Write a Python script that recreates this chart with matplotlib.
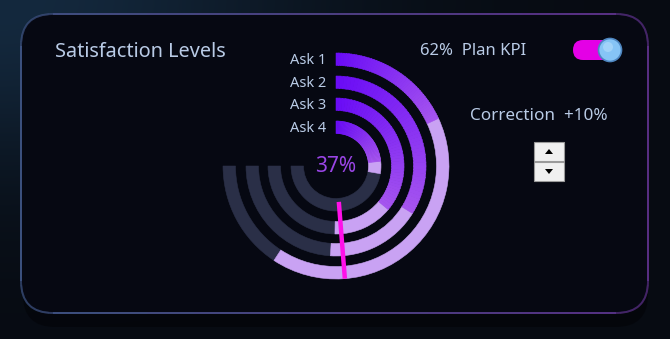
import matplotlib

matplotlib.use("Agg")
import matplotlib.pyplot as plt
import numpy as np
from matplotlib.collections import LineCollection
from matplotlib.colors import to_rgb
from matplotlib.patches import Circle, FancyBboxPatch, Polygon, Rectangle, Wedge

# ---- data (percent of the 270 degree sweep) ----
asks = ["Ask 1", "Ask 2", "Ask 3", "Ask 4"]
base_pct = [24, 45, 48, 31]      # vivid purple part
total_pct = [79, 68, 67, 37]     # end of the lavender part
needle_pct = 65
center_label = "37%"
kpi_label = "62%  Plan KPI"
correction_label = "Correction  +10%"

W, H = 670, 339
BG = "#060812"
TRACK = "#2a2f47"
LAV = "#c9a2f3"
PURPLE_START = "#6a0cf6"
PURPLE_END = "#a554ef"
TEXT = "#b9cbe6"

fig = plt.figure(figsize=(W / 100, H / 100), dpi=100)
ax = fig.add_axes([0, 0, 1, 1])
ax.set_xlim(0, W)
ax.set_ylim(0, H)
ax.set_aspect("equal")
ax.axis("off")

# page background with a soft glow top-left
yy, xx = np.mgrid[0:H, 0:W]
glow = np.exp(-(((xx - 0) / 300) ** 2 + ((H - yy) / 170) ** 2))
c0, c1 = np.array(to_rgb("#070b12")), np.array(to_rgb("#14293e"))
img = c0 + (c1 - c0) * glow[..., None]
ax.imshow(img, extent=[0, W, 0, H], origin="lower", zorder=0)

# card shadow and card
ax.add_patch(FancyBboxPatch((23, 339 - 327), 625, 300, boxstyle="round,pad=0,rounding_size=32",
                            fc="#020307", ec="none", alpha=0.55, zorder=1))
card = FancyBboxPatch((21, 339 - 313), 627, 299, boxstyle="round,pad=0,rounding_size=32",
                      fc=BG, ec="none", zorder=2)
ax.add_patch(card)
# border: blue-grey on the left fading to purple on the right
poly = card.get_path().to_polygons()[0]
pts = []
for p, q in zip(poly[:-1], poly[1:]):
    for t in np.linspace(0, 1, 12, endpoint=False):
        pts.append(p + (q - p) * t)
pts.append(poly[-1])
pts = np.array(pts)
segs = np.stack([pts[:-1], pts[1:]], axis=1)
f = ((segs[:, 0, 0] - 21) / 627).clip(0, 1)[:, None]
b0, b1 = np.array(to_rgb("#3d5280")), np.array(to_rgb("#5a2f86"))
ax.add_collection(LineCollection(segs, colors=b0 + (b1 - b0) * f, lw=1.4, zorder=2.5))

cx, cy = 336, 339 - 166
outer_r = [113, 90, 68, 45]
width = 12.5


def arc(r, a0, a1, color):
    # angles are clockwise from 12 o'clock, in degrees
    ax.add_patch(Wedge((cx, cy), r, 90 - a1, 90 - a0, width=width, fc=color, ec=color,
                       lw=0.4, zorder=3))


s0, s1 = np.array(to_rgb(PURPLE_START)), np.array(to_rgb(PURPLE_END))
for r, b, t in zip(outer_r, base_pct, total_pct):
    a_b, a_t = b * 2.7, t * 2.7
    arc(r, a_t, 270, TRACK)
    arc(r, a_b, a_t, LAV)
    n = 50
    edges = np.linspace(0, a_b, n + 1)
    for i in range(n):
        f = i / (n - 1)
        arc(r, edges[i], edges[i + 1] + 0.3, s0 + (s1 - s0) * f)

# needle
th = np.deg2rad(90 - needle_pct * 2.7)
r_in, r_out = 36, 113
ax.plot([cx + r_in * np.cos(th), cx + r_out * np.cos(th)],
        [cy + r_in * np.sin(th), cy + r_out * np.sin(th)],
        color="#ff10e8", lw=3.2, solid_capstyle="butt", zorder=5)

font = "Noto Sans"
for r, lab in zip(outer_r, asks):
    ax.text(326, cy + r - width / 2 - 1.5, lab, ha="right", va="center", color=TEXT,
            fontsize=10.5, family=font, zorder=6)
ax.text(cx, cy, center_label, ha="center", va="center", color="#9a45e6",
        fontsize=15, family=font, zorder=6)
ax.text(55, 339 - 52, "Satisfaction Levels", ha="left", va="center", color=TEXT,
        fontsize=14.3, family=font, zorder=6)
ax.text(420, 339 - 51, kpi_label, ha="left", va="center", color=TEXT,
        fontsize=12, family=font, zorder=6)
ax.text(470, 339 - 116, correction_label, ha="left", va="center", color=TEXT,
        fontsize=12.3, family=font, zorder=6)

# toggle switch
ax.add_patch(FancyBboxPatch((573, 339 - 60), 44, 20, boxstyle="round,pad=0,rounding_size=10",
                            fc="#e400e6", ec="none", zorder=6))
ax.add_patch(Circle((610, 339 - 50), 11.5, fc="#86c4f6", ec="#4e86c0", lw=1.2, zorder=7))
ax.add_patch(Circle((608, 339 - 47), 5, fc="#b6defc", ec="none", alpha=0.6, zorder=7))

# spin buttons
for y0, up in [(142, True), (162, False)]:
    ax.add_patch(Rectangle((534, 339 - y0 - 19), 30, 19, fc="#f0f0f0", ec="#9a9a9a", lw=0.8, zorder=6))
    ym = 339 - y0 - 9.5
    if up:
        tri = [(545, ym - 2.5), (553, ym - 2.5), (549, ym + 2.5)]
    else:
        tri = [(545, ym + 2.5), (553, ym + 2.5), (549, ym - 2.5)]
    ax.add_patch(Polygon(tri, closed=True, fc="black", ec="none", zorder=7))

fig.savefig("out.png", dpi=100, facecolor=BG)
